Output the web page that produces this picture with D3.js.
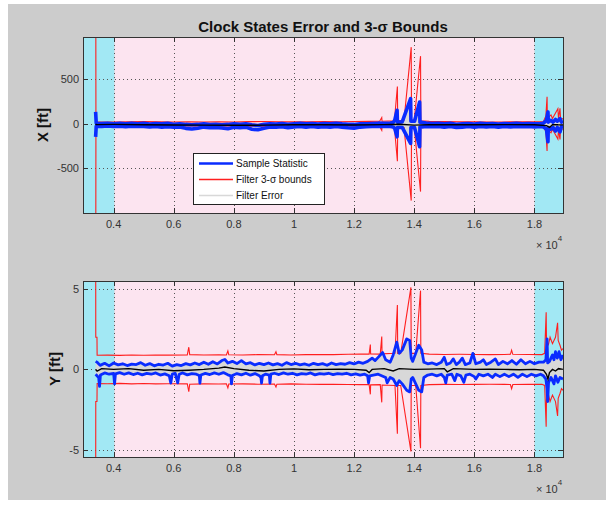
<!DOCTYPE html>
<html><head><meta charset="utf-8">
<script src="https://cdn.jsdelivr.net/npm/d3@7"></script>
<style>
html,body{margin:0;padding:0;background:#fff;}
svg{display:block;font-family:"Liberation Sans",Arial,Helvetica,sans-serif;}
</style></head><body>
<svg id="fig" width="613" height="506"></svg>
<script>
// ---- time axis (seconds) and shaded phases ----
const timeDomain = [2980, 18950];
const timeTicks = [4000, 6000, 8000, 10000, 12000, 14000, 16000, 18000];
const outerPhases = [[2980, 4030], [18000, 18950]];
const innerPhase = [4030, 18000];

// ---- X clock state: 3-sigma bound [t, ft] ----
const xBound = [[3400,3000],[3410,40],[3450,24],[4000,22],[4500,24],[5000,26],[5500,24],[6000,22],[6500,24],[7000,22],[7500,23],[8000,22],[8500,25],[9000,26],[9500,24],[10000,23],[10500,24],[11000,25],[11500,24],[12000,26],[12500,28],[12850,30],[12920,72],[12930,30],[13340,34],[13440,420],[13450,35],[13660,40],[13900,861],[13910,40],[14000,40],[14210,760],[14220,35],[14500,28],[15000,25],[15500,24],[16000,24],[16500,22],[17000,22],[17500,23],[18000,24],[18300,26],[18380,90],[18420,305],[18430,60],[18550,100],[18600,60],[18780,170],[18800,60],[18850,175],[18870,50],[18950,60]];
// X sample statistic envelope (upper / lower) [t, ft]
const xSampleHi = [[3400,134],[3420,8],[3600,4],[3800,8],[4000,2],[4200,6],[4400,0],[4600,8],[4800,2],[5000,6],[5200,-2],[5400,4],[5600,0],[5800,6],[6000,-4],[6200,2],[6400,-6],[6600,-10],[6800,-6],[7000,0],[7200,-8],[7400,-4],[7600,-10],[7800,-6],[8000,2],[8200,-4],[8400,0],[8600,-10],[8800,-18],[9000,-4],[9200,2],[9400,-2],[9600,4],[9800,-4],[10000,2],[10200,6],[10400,0],[10600,4],[10800,-2],[11000,4],[11200,0],[11400,6],[11600,0],[11800,-4],[12000,-6],[12200,2],[12400,0],[12600,4],[12800,8],[13000,6],[13200,10],[13300,14],[13350,40],[13430,153],[13440,20],[13600,22],[13880,284],[13890,30],[14010,30],[14180,246],[14190,20],[14400,10],[14600,4],[14800,8],[15000,0],[15200,6],[15400,-4],[15600,0],[15800,4],[16000,-2],[16200,6],[16400,0],[16600,4],[16800,-2],[17000,4],[17200,0],[17400,6],[17600,2],[17800,4],[18000,0],[18200,4],[18300,8],[18400,40],[18450,134],[18460,20],[18550,40],[18620,20],[18700,50],[18760,30],[18850,60],[18900,20],[18950,30]];
const xSampleLo = [[3400,-145],[3420,-26],[3600,-30],[3800,-24],[4000,-30],[4200,-26],[4400,-32],[4600,-26],[4800,-30],[5000,-28],[5200,-34],[5400,-30],[5600,-36],[5800,-32],[6000,-38],[6200,-34],[6400,-50],[6600,-58],[6800,-48],[7000,-36],[7200,-44],[7400,-40],[7600,-46],[7800,-55],[8000,-38],[8200,-42],[8400,-36],[8600,-60],[8800,-66],[9000,-50],[9200,-36],[9400,-38],[9600,-32],[9800,-44],[10000,-34],[10200,-30],[10400,-36],[10600,-30],[10800,-38],[11000,-32],[11200,-36],[11400,-30],[11600,-36],[11800,-44],[12000,-48],[12200,-36],[12400,-32],[12600,-30],[12800,-28],[13000,-30],[13200,-30],[13300,-34],[13350,-50],[13430,-145],[13440,-40],[13600,-40],[13880,-219],[13890,-40],[14010,-40],[14180,-257],[14190,-36],[14400,-28],[14600,-32],[14800,-28],[15000,-36],[15200,-30],[15400,-40],[15600,-36],[15800,-30],[16000,-36],[16200,-30],[16400,-34],[16600,-30],[16800,-36],[17000,-30],[17200,-34],[17400,-28],[17600,-32],[17800,-30],[18000,-34],[18200,-30],[18300,-34],[18400,-60],[18450,-201],[18460,-40],[18550,-60],[18620,-40],[18700,-80],[18760,-40],[18850,-90],[18900,-30],[18950,-40]];
// X mean filter error [t, ft]
const xError = [[3400,0],[3420,-8],[4000,-6],[5000,-10],[6000,-12],[7000,-14],[8000,-16],[9000,-14],[10000,-10],[11000,-10],[12000,-12],[13000,-8],[13500,-4],[14000,-14],[14500,-8],[15000,-10],[16000,-10],[17000,-8],[18000,-10],[18400,-20],[18500,-40],[18600,-10],[18950,-10]];

// ---- Y clock state: 3-sigma bound [t, ft] ----
const yBound = [[3400,12],[3405,2.0],[3445,2.0],[3450,0.88],[3800,0.89],[4200,0.87],[4600,0.9],[5000,0.88],[5400,0.9],[5800,0.89],[6450,0.9],[6500,1.38],[6530,0.92],[7000,0.9],[7500,0.91],[7750,0.9],[7800,1.15],[7830,0.91],[8300,0.9],[8800,0.92],[9350,0.91],[9400,1.1],[9430,0.92],[9900,0.9],[10400,0.92],[10900,0.93],[11300,0.92],[11800,0.94],[12200,0.95],[12500,0.95],[12540,1.55],[12550,0.96],[12870,0.95],[12920,2.05],[12930,0.97],[13360,1.0],[13440,4.0],[13450,1.0],[13550,1.0],[13890,5.1],[13900,1.0],[14050,1.0],[14210,4.9],[14220,1.0],[14500,0.95],[15000,0.93],[15500,0.94],[16000,0.93],[16500,0.92],[17000,0.93],[17200,0.94],[17240,1.2],[17280,0.94],[17800,0.93],[18250,0.92],[18340,1.0],[18390,3.56],[18400,1.9],[18460,1.5],[18520,2.0],[18600,1.6],[18700,2.0],[18770,2.9],[18790,1.8],[18850,1.5],[18900,1.2],[18950,1.3]];
// Y sample statistic envelope (upper / lower) [t, ft]
const ySampleHi = [[3400,0.5],[3450,0.45],[3550,0.25],[3700,0.38],[3850,0.22],[4000,0.4],[4150,0.28],[4300,0.35],[4450,0.24],[4600,0.33],[4750,0.3],[4900,0.42],[5050,0.26],[5200,0.36],[5350,0.22],[5500,0.32],[5650,0.27],[5800,0.38],[5950,0.2],[6100,0.3],[6250,0.24],[6400,0.36],[6550,0.28],[6700,0.4],[6850,0.3],[7000,0.45],[7150,0.32],[7300,0.48],[7450,0.34],[7600,0.55],[7700,0.62],[7800,0.4],[7950,0.5],[8100,0.36],[8250,0.55],[8400,0.35],[8550,0.42],[8700,0.28],[8850,0.38],[9000,0.3],[9150,0.4],[9300,0.28],[9450,0.36],[9600,0.26],[9750,0.42],[9900,0.3],[10050,0.38],[10200,0.28],[10350,0.34],[10500,0.26],[10650,0.38],[10800,0.3],[10950,0.36],[11100,0.26],[11250,0.4],[11400,0.3],[11550,0.36],[11700,0.32],[11850,0.42],[12000,0.34],[12150,0.45],[12300,0.38],[12450,0.5],[12600,0.7],[12700,0.55],[12800,0.75],[12950,1.05],[13050,0.6],[13200,0.45],[13300,0.9],[13420,1.7],[13500,1.0],[13600,1.2],[13750,1.9],[13850,1.8],[13900,0.7],[13950,0.5],[14050,1.0],[14150,1.5],[14250,1.2],[14320,0.45],[14450,0.35],[14600,0.4],[14750,0.3],[14900,0.45],[15000,0.75],[15080,0.3],[15200,0.4],[15300,0.65],[15400,0.3],[15500,0.45],[15600,0.7],[15700,0.3],[15850,0.4],[15950,1.0],[16050,0.35],[16200,0.45],[16300,0.6],[16400,0.3],[16550,0.45],[16700,0.65],[16800,0.3],[16950,0.5],[17100,0.35],[17250,0.55],[17400,0.32],[17550,0.6],[17700,0.35],[17850,0.5],[18000,0.35],[18150,0.45],[18300,0.45],[18380,0.6],[18420,1.9],[18440,0.4],[18500,0.5],[18600,0.9],[18650,0.6],[18700,1.1],[18760,0.7],[18820,1.1],[18880,0.6],[18950,0.9]];
const ySampleLo = [[3400,-0.3],[3500,-0.5],[3530,-1.05],[3560,-0.35],[3700,-0.22],[3850,-0.3],[4000,-0.25],[4030,-0.9],[4060,-0.28],[4200,-0.2],[4350,-0.3],[4500,-0.22],[4650,-0.32],[4800,-0.24],[4950,-0.34],[5100,-0.25],[5250,-0.3],[5400,-0.22],[5550,-0.35],[5700,-0.28],[5850,-0.4],[5900,-0.85],[5950,-0.3],[6050,-0.25],[6130,-0.84],[6180,-0.3],[6300,-0.22],[6450,-0.34],[6600,-0.26],[6750,-0.3],[6850,-0.38],[6870,-0.85],[6900,-0.35],[7050,-0.25],[7200,-0.32],[7350,-0.22],[7500,-0.3],[7650,-0.2],[7800,-0.34],[7900,-0.4],[7920,-0.9],[7950,-0.38],[8100,-0.26],[8250,-0.34],[8400,-0.24],[8550,-0.36],[8700,-0.26],[8850,-0.4],[8900,-0.5],[8920,-0.85],[8950,-0.4],[9050,-0.3],[9180,-0.36],[9200,-0.85],[9230,-0.3],[9350,-0.24],[9500,-0.32],[9650,-0.22],[9800,-0.3],[9950,-0.24],[10100,-0.34],[10250,-0.26],[10400,-0.3],[10550,-0.22],[10700,-0.34],[10850,-0.26],[11000,-0.3],[11150,-0.24],[11300,-0.32],[11450,-0.26],[11600,-0.3],[11750,-0.24],[11900,-0.34],[12050,-0.28],[12200,-0.36],[12350,-0.3],[12450,-0.4],[12480,-0.84],[12520,-0.4],[12800,-0.3],[13050,-0.5],[13100,-0.84],[13200,-0.5],[13300,-0.6],[13420,-1.0],[13500,-0.7],[13600,-0.9],[13750,-1.3],[13850,-1.4],[13900,-0.6],[13950,-0.5],[14050,-0.9],[14150,-1.3],[14250,-1.4],[14320,-0.5],[14450,-0.35],[14600,-0.3],[14750,-0.4],[14900,-0.3],[15000,-0.5],[15050,-0.84],[15100,-0.35],[15250,-0.3],[15350,-0.7],[15420,-0.3],[15550,-0.4],[15650,-0.8],[15720,-0.35],[15850,-0.3],[16000,-0.45],[16050,-0.6],[16150,-0.3],[16300,-0.4],[16450,-0.3],[16600,-0.5],[16700,-0.3],[16850,-0.45],[17000,-0.3],[17150,-0.45],[17300,-0.3],[17450,-0.5],[17600,-0.3],[17750,-0.45],[17900,-0.3],[18050,-0.4],[18200,-0.3],[18300,-0.4],[18380,-0.6],[18420,-1.2],[18440,-2.0],[18470,-0.8],[18550,-0.5],[18650,-0.9],[18700,-0.4],[18780,-0.8],[18850,-0.5],[18950,-0.6]];
// Y mean filter error [t, ft]
const yError = [[3400,0],[3450,-0.1],[3600,0.05],[4000,0.0],[4500,0.05],[5000,-0.05],[5500,0.0],[6000,-0.08],[6500,-0.05],[7000,0.0],[7500,0.08],[7700,0.15],[8000,0.05],[8500,-0.05],[9000,-0.1],[9500,0.0],[10000,0.03],[10500,-0.02],[11000,0.0],[11500,0.02],[12000,0.0],[12400,-0.05],[12500,-0.2],[12600,0.0],[13000,0.05],[13300,-0.1],[13500,0.05],[14000,0.0],[14500,0.02],[15000,0.05],[15100,-0.15],[15300,0.05],[16000,0.0],[16500,0.02],[17000,0.0],[17500,-0.02],[18000,0.0],[18300,-0.05],[18400,-0.3],[18450,-0.6],[18500,-0.2],[18600,0.0],[18700,-0.1],[18800,0.05],[18950,0.0]];

const xTicksY = [-500, 0, 500];
const yTicksY = [-5, 0, 5];
const legendItems = ["Sample Statistic", "Filter 3-\u03c3 bounds", "Filter Error"];

// ---- styling ----
const C = {
  fig: "#cccccc", outer: "#a2e8f4", inner: "#fce4f0",
  red: "#ff1f1f", blue: "#0a2cff", black: "#000000", fill: "#d8d8d8",
  axis: "#333333", grid: "#555555", text: "#333333"
};

const svg = d3.select("#fig");
svg.append("rect").attr("x", 8).attr("y", 4).attr("width", 598).attr("height", 496).attr("fill", C.fig);

svg.append("text").attr("x", 323).attr("y", 32).attr("text-anchor", "middle")
  .attr("font-size", 15).attr("font-weight", "bold").attr("fill", "#111")
  .text("Clock States Error and 3-\u03c3 Bounds");

const x = d3.scaleLinear().domain(timeDomain).range([83, 563]);

function drawPanel(opt) {
  const y = d3.scaleLinear().domain(opt.yDomain).range([opt.top + 176, opt.top]);
  const g = svg.append("g");
  const clipId = "clip" + opt.id;
  svg.append("clipPath").attr("id", clipId).append("rect")
    .attr("x", 83).attr("y", opt.top).attr("width", 480).attr("height", 176);

  // phase shading
  outerPhases.forEach(p => g.append("rect").attr("x", x(p[0])).attr("y", opt.top)
    .attr("width", x(p[1]) - x(p[0])).attr("height", 176).attr("fill", C.outer));
  g.append("rect").attr("x", x(innerPhase[0])).attr("y", opt.top)
    .attr("width", x(innerPhase[1]) - x(innerPhase[0])).attr("height", 176).attr("fill", C.inner);

  // grid
  const grid = g.append("g").attr("stroke", C.grid).attr("stroke-width", 1)
    .attr("stroke-dasharray", "1,3");
  timeTicks.forEach(t => grid.append("line").attr("x1", Math.round(x(t)) + 0.5).attr("x2", Math.round(x(t)) + 0.5)
    .attr("y1", opt.top).attr("y2", opt.top + 176));
  opt.yTicks.forEach(v => grid.append("line").attr("y1", Math.round(y(v)) + 0.5).attr("y2", Math.round(y(v)) + 0.5)
    .attr("x1", 83).attr("x2", 563));

  const data = g.append("g").attr("clip-path", `url(#${clipId})`);
  const line = d3.line().x(d => x(d[0])).y(d => y(d[1]));

  // spread of individual runs between the sample envelopes
  const area = d3.area().x(d => x(d[0])).y0(d => y(d[1])).y1(d => y(d[2]));
  const times = Array.from(new Set(opt.hi.map(d => d[0]).concat(opt.lo.map(d => d[0])))).sort((a, b) => a - b);
  const at = (arr, t) => {
    const i = d3.bisector(d => d[0]).left(arr, t);
    if (i <= 0) return arr[0][1];
    if (i >= arr.length) return arr[arr.length - 1][1];
    const a = arr[i - 1], b = arr[i];
    return a[1] + (b[1] - a[1]) * (t - a[0]) / (b[0] - a[0]);
  };
  data.append("path").datum(times.map(t => [t, at(opt.hi, t), at(opt.lo, t)]))
    .attr("d", area).attr("fill", C.fill);

  // filter 3-sigma bounds
  [1, -1].forEach(s => data.append("path").datum(opt.bound.map(d => [d[0], s * d[1]]))
    .attr("d", line).attr("fill", "none").attr("stroke", C.red).attr("stroke-width", 1.1));

  // sample statistic
  [opt.hi, opt.lo].forEach(arr => data.append("path").datum(arr)
    .attr("d", line).attr("fill", "none").attr("stroke", C.blue).attr("stroke-width", opt.blueWidth)
    .attr("stroke-linejoin", "round"));

  // mean error
  data.append("path").datum(opt.err).attr("d", line).attr("fill", "none")
    .attr("stroke", C.black).attr("stroke-width", 1.4);

  // box and ticks
  g.append("rect").attr("x", 83.5).attr("y", opt.top + 0.5).attr("width", 480).attr("height", 176)
    .attr("fill", "none").attr("stroke", C.axis).attr("stroke-width", 1);
  const tk = g.append("g").attr("stroke", C.axis).attr("stroke-width", 1);
  timeTicks.forEach(t => {
    const px = Math.round(x(t)) + 0.5;
    tk.append("line").attr("x1", px).attr("x2", px).attr("y1", opt.top + 176).attr("y2", opt.top + 171);
    tk.append("line").attr("x1", px).attr("x2", px).attr("y1", opt.top).attr("y2", opt.top + 5);
  });
  opt.yTicks.forEach(v => {
    const py = Math.round(y(v)) + 0.5;
    tk.append("line").attr("x1", 83).attr("x2", 88).attr("y1", py).attr("y2", py);
    tk.append("line").attr("x1", 563).attr("x2", 558).attr("y1", py).attr("y2", py);
  });

  // tick labels
  const lab = g.append("g").attr("font-size", 11).attr("fill", C.text);
  timeTicks.forEach(t => lab.append("text").attr("x", x(t)).attr("y", opt.top + 191)
    .attr("text-anchor", "middle").text(String(+(t / 1e4).toFixed(1))));
  opt.yTicks.forEach(v => lab.append("text").attr("x", 79).attr("y", y(v) + 4)
    .attr("text-anchor", "end").text(String(v)));
  const mult = lab.append("text").attr("x", 536).attr("y", opt.top + 212);
  mult.append("tspan").text("\u00d7 10");
  mult.append("tspan").attr("font-size", 8).attr("dy", -8).text("4");

  svg.append("text").attr("transform", `translate(${opt.labelX},${opt.top + 88}) rotate(-90)`)
    .attr("text-anchor", "middle").attr("font-size", 15).attr("font-weight", "bold").attr("fill", "#111")
    .text(opt.label);
  return { g, y };
}

drawPanel({ id: 1, top: 37, yDomain: [-1000, 975], yTicks: xTicksY, blueWidth: 3.6,
  bound: xBound, hi: xSampleHi, lo: xSampleLo, err: xError, label: "X [ft]", labelX: 48 });
drawPanel({ id: 2, top: 281, yDomain: [-5.45, 5.5], yTicks: yTicksY, blueWidth: 2.8,
  bound: yBound, hi: ySampleHi, lo: ySampleLo, err: yError, label: "Y [ft]", labelX: 60 });

// legend
const lg = svg.append("g");
lg.append("rect").attr("x", 193.5).attr("y", 153.5).attr("width", 131).attr("height", 51)
  .attr("fill", "#fff").attr("stroke", "#222").attr("stroke-width", 1);
const legendColors = [C.blue, C.red, "#d8d8d8"];
const legendWidths = [2.4, 1.4, 1.6];
legendItems.forEach((name, i) => {
  const yy = 163.5 + i * 16;
  lg.append("line").attr("x1", 199).attr("x2", 233).attr("y1", yy).attr("y2", yy)
    .attr("stroke", legendColors[i]).attr("stroke-width", legendWidths[i]);
  lg.append("text").attr("x", 236).attr("y", yy + 3.5).attr("font-size", 10).attr("fill", "#111").text(name);
});
</script>
</body></html>
